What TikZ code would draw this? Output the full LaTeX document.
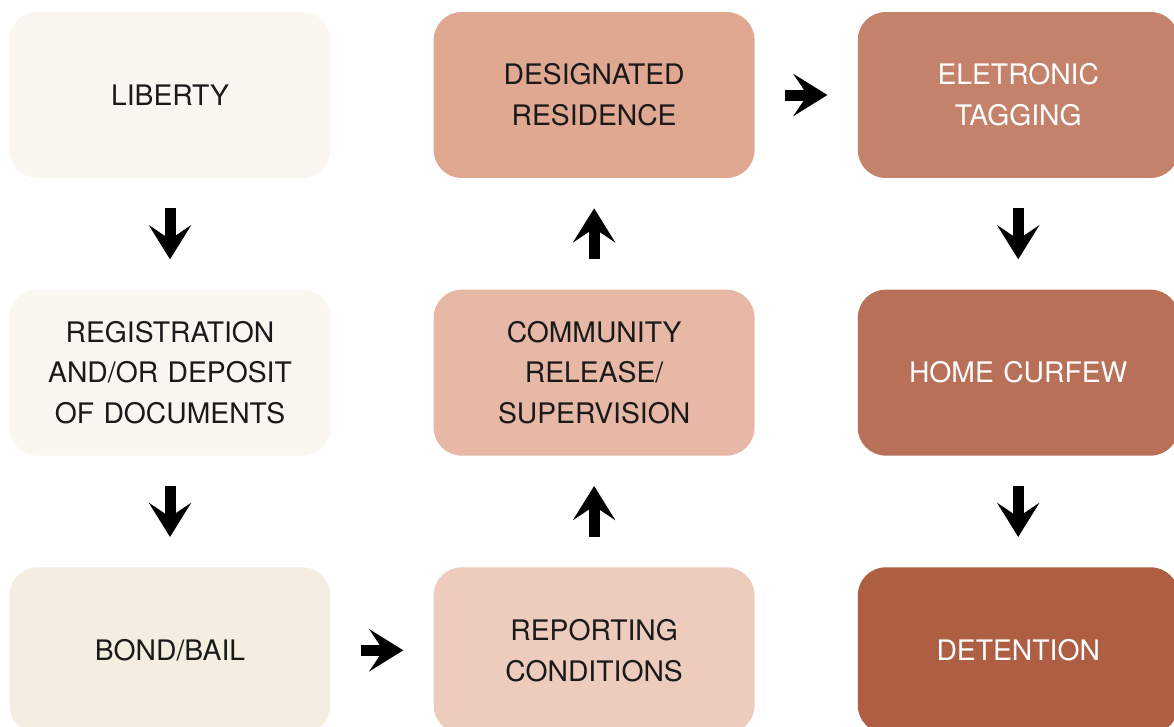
\documentclass[tikz,border=0pt]{standalone}
\usepackage{fontspec}
\setmainfont{TeX Gyre Heros}
\usetikzlibrary{positioning,arrows.meta}

\definecolor{libertyc}{HTML}{FAF6F0}
\definecolor{bondc}{HTML}{F6EDE1}
\definecolor{residc}{HTML}{E0A890}
\definecolor{communc}{HTML}{E6B8A5}
\definecolor{reportc}{HTML}{EDCBBD}
\definecolor{taggc}{HTML}{C4826B}
\definecolor{curfc}{HTML}{B87058}
\definecolor{detc}{HTML}{AE5E42}
\definecolor{inkc}{HTML}{1A1A1A}

\tikzset{%
  measure/.style={draw=none, text width=6.2cm, align=center, minimum width=6.42cm, minimum height=3.32cm, rounded corners=0.56cm, inner sep=0pt, text=inkc, font=\fontsize{16.1}{23.3}\selectfont},
  darkmeasure/.style={measure, text=white},
  bigarrow/.style={draw, line width=0.22cm, color=black, -{Stealth[length=0.68cm,width=0.84cm,inset=0.28cm]}, shorten <=0.6cm, shorten >=0.6cm},
}

\begin{document}
\begin{tikzpicture}[x=0.02cm, y=-0.02cm]
\useasboundingbox (0,0) rectangle (1174,727);
\node[measure, fill=libertyc] (liberty) at (170,95) {LIBERTY};
\node[measure, fill=libertyc] (registration) [below=2.22cm of liberty] {REGISTRATION\\AND/OR DEPOSIT\\OF DOCUMENTS};
\node[measure, fill=bondc] (bond) [below=2.22cm of registration] {BOND/BAIL};
\node[measure, fill=reportc] (reporting) [right=2.05cm of bond] {REPORTING\\CONDITIONS};
\node[measure, fill=communc] (community) [above=2.22cm of reporting] {COMMUNITY\\RELEASE/\\SUPERVISION};
\node[measure, fill=residc] (residence) [above=2.22cm of community] {DESIGNATED\\RESIDENCE};
\node[darkmeasure, fill=taggc] (tagging) [right=2.05cm of residence] {ELETRONIC\\TAGGING};
\node[darkmeasure, fill=curfc] (curfew) [below=2.22cm of tagging] {HOME CURFEW};
\node[darkmeasure, fill=detc] (detention) [below=2.22cm of curfew] {DETENTION};
% steps
\draw[bigarrow] (liberty) -- (registration);
\draw[bigarrow] (registration) -- (bond);
\draw[bigarrow] (bond) -- (reporting);
\draw[bigarrow] (reporting) -- (community);
\draw[bigarrow] (community) -- (residence);
\draw[bigarrow] (residence) -- (tagging);
\draw[bigarrow] (tagging) -- (curfew);
\draw[bigarrow] (curfew) -- (detention);
\end{tikzpicture}
\end{document}
